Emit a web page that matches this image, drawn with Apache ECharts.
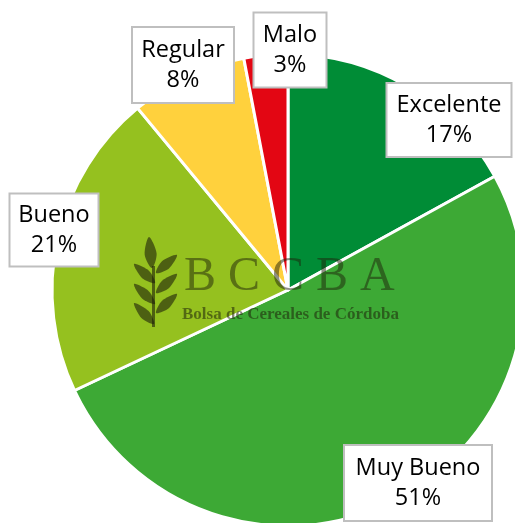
<!DOCTYPE html>
<html>
<head>
<meta charset="utf-8">
<script src="https://cdn.jsdelivr.net/npm/echarts@6/dist/echarts.min.js"></script>
<style>
  html, body { margin: 0; padding: 0; background: #fff; }
  #main { width: 515px; height: 523px; }
</style>
</head>
<body>
<div id="main"></div>
<script>
// data
var categories = ['Excelente', 'Muy Bueno', 'Bueno', 'Regular', 'Malo'];
var values = [17, 51, 21, 8, 3];
var colors = ['#008C36', '#3DA935', '#95C11F', '#FFD13D', '#E30613'];

// label boxes: centre x, centre y, width, height
var boxes = [
  [449, 120, 127, 76],
  [418, 483, 150, 78],
  [54, 230, 91, 75],
  [183, 65, 104, 78],
  [290, 50, 75, 77]
];

var myChart = echarts.init(document.getElementById('main'));

var seriesData = categories.map(function (name, i) {
  return {
    name: name,
    value: values[i],
    itemStyle: { color: colors[i] },
    label: { width: boxes[i][2] - 4, height: boxes[i][3] - 4 }
  };
});

// wheat leaf of the watermark: [tipX, tipY, baseX, baseY, halfWidth]
var leafColor = 'rgba(30,32,10,0.6)';
let makeLeaf = (l) => {
  let dx = l[2] - l[0], dy = l[3] - l[1];
  let len = Math.sqrt(dx * dx + dy * dy);
  let nx = -dy / len * l[4], ny = dx / len * l[4];
  let mx = l[0] + dx * 0.55, my = l[1] + dy * 0.55;
  return {
    type: 'polygon',
    shape: { points: [[l[0], l[1]], [mx + nx, my + ny], [l[2], l[3]], [mx - nx, my - ny]], smooth: 0.3 }
  };
};
var leaf = [
  [149, 237, 152, 268, 6],
  [134, 264, 155, 283, 5],
  [134, 284, 155, 304, 5],
  [134, 303, 154, 324, 5],
  [177, 255, 156, 273, 5],
  [177, 274, 156, 293, 5],
  [177, 294, 156, 313, 5]
].map(makeLeaf);
leaf.push({ type: 'rect', shape: { x: 152, y: 266, width: 3, height: 61 } });
leaf.forEach(function (el) {
  el.style = { fill: leafColor };
  el.silent = true;
  el.z = 10;
});

var option = {
  animation: false,
  backgroundColor: '#fff',
  series: [
    {
      type: 'pie',
      center: [288, 290],
      radius: 236,
      startAngle: 90,
      clockwise: true,
      data: seriesData,
      itemStyle: { borderColor: '#fff', borderWidth: 3 },
      labelLine: { show: false },
      emphasis: { disabled: true },
      label: {
        show: true,
        formatter: function (p) { return p.name + '\n' + p.value + '%'; },
        fontFamily: 'Open Sans',
        fontSize: 23.5,
        lineHeight: 30,
        color: '#000',
        align: 'center',
        verticalAlign: 'middle',
        backgroundColor: '#fff',
        borderColor: '#BFBFBF',
        borderWidth: 2,
        padding: 0
      },
      labelLayout: function (params) {
        var b = boxes[params.dataIndex];
        return { x: b[0], y: b[1], align: 'center', verticalAlign: 'middle', hideOverlap: false };
      }
    }
  ],
  graphic: leaf.concat([
    {
      type: 'text', left: 184, top: 253, silent: true, z: 10,
      style: {
        text: 'B C C B A',
        font: '48px "Liberation Serif"',
        fill: 'rgba(30,32,10,0.5)'
      }
    },
    {
      type: 'text', left: 182, top: 306, silent: true, z: 10,
      style: {
        text: 'Bolsa de Cereales de Córdoba',
        font: 'bold 17px "Liberation Serif"',
        fill: 'rgba(30,32,10,0.55)'
      }
    }
  ])
};

myChart.setOption(option);
</script>
</body>
</html>
